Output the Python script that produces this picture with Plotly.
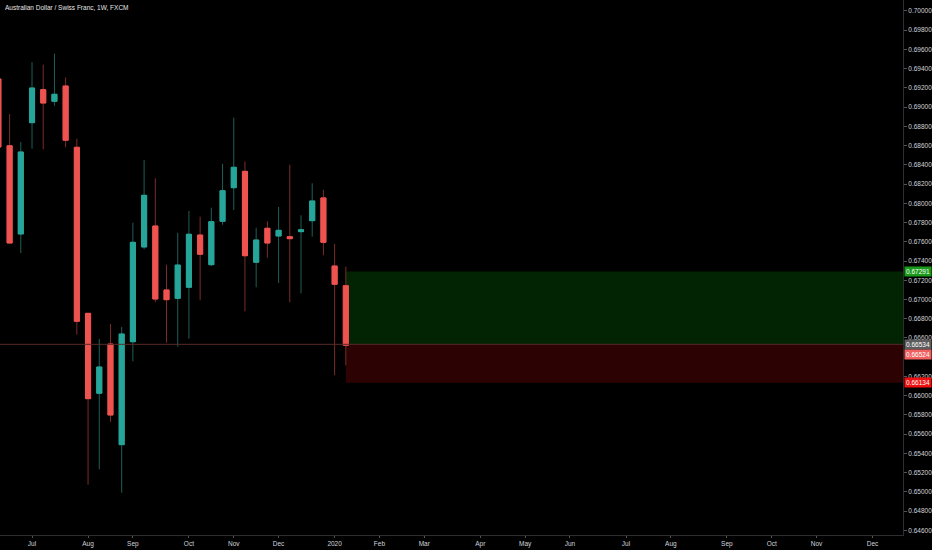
import plotly.graph_objects as go

# weekly AUD/CHF candles (Monday of each week)
dates = ["2019-06-10", "2019-06-17", "2019-06-24", "2019-07-01", "2019-07-08",
         "2019-07-15", "2019-07-22", "2019-07-29", "2019-08-05", "2019-08-12",
         "2019-08-19", "2019-08-26", "2019-09-02", "2019-09-09", "2019-09-16",
         "2019-09-23", "2019-09-30", "2019-10-07", "2019-10-14", "2019-10-21",
         "2019-10-28", "2019-11-04", "2019-11-11", "2019-11-18", "2019-11-25",
         "2019-12-02", "2019-12-09", "2019-12-16", "2019-12-23", "2019-12-30",
         "2020-01-06", "2020-01-13"]
opens = [0.69292, 0.68598, 0.67681, 0.68838, 0.69181, 0.69060, 0.69219, 0.68582,
         0.66856, 0.66025, 0.66537, 0.65491, 0.66561, 0.67546, 0.67764, 0.67099,
         0.67012, 0.67127, 0.67670, 0.67362, 0.67813, 0.68162, 0.68332, 0.67387,
         0.67740, 0.67660, 0.67653, 0.67705, 0.67819, 0.68056, 0.67348, 0.67143]
highs = [0.69350, 0.68928, 0.68637, 0.69468, 0.69440, 0.69555, 0.69309, 0.68671,
         0.66856, 0.66589, 0.66745, 0.66714, 0.67798, 0.68450, 0.68260, 0.67362,
         0.67694, 0.67920, 0.67861, 0.67954, 0.68411, 0.68890, 0.68436, 0.67746,
         0.67813, 0.67961, 0.68402, 0.67875, 0.68208, 0.68141, 0.67577, 0.67341]
lows = [0.68520, 0.67587, 0.67483, 0.68567, 0.68561, 0.69014, 0.68582, 0.66634,
        0.65075, 0.65235, 0.65727, 0.64992, 0.66358, 0.67522, 0.66971, 0.66551,
        0.66509, 0.66592, 0.66992, 0.67348, 0.67777, 0.67930, 0.66877, 0.67127,
        0.67434, 0.67171, 0.66971, 0.67064, 0.67653, 0.67459, 0.66212, 0.66316]
closes = [0.68585, 0.67587, 0.68533, 0.69198, 0.69042, 0.69133, 0.68655, 0.66773,
          0.65969, 0.66298, 0.65799, 0.66641, 0.67594, 0.68083, 0.67005, 0.66998,
          0.67358, 0.67678, 0.67470, 0.67809, 0.68131, 0.68374, 0.67455, 0.67618,
          0.67587, 0.67719, 0.67632, 0.67725, 0.68024, 0.67594, 0.67158, 0.66524]

# long position tool
pos_start = "2020-01-13"
target_price = 0.67291
entry_price = 0.66534
stop_price = 0.66134
last_price = 0.66524

# 0.66400 is hidden behind the price labels in the original
price_ticks = [0.646, 0.648, 0.650, 0.652, 0.654, 0.656, 0.658, 0.660, 0.662,
               0.666, 0.668, 0.670, 0.672, 0.674, 0.676, 0.678, 0.680,
               0.682, 0.684, 0.686, 0.688, 0.690, 0.692, 0.694, 0.696, 0.698, 0.700]
month_dates = ["2019-07-01", "2019-08-05", "2019-09-02", "2019-10-07", "2019-11-04",
               "2019-12-02", "2020-01-06", "2020-02-03", "2020-03-02", "2020-04-06",
               "2020-05-04", "2020-06-01", "2020-07-06", "2020-08-03", "2020-09-07",
               "2020-10-05", "2020-11-02", "2020-12-07"]
month_labels = ["Jul", "Aug", "Sep", "Oct", "Nov", "Dec", "2020", "Feb", "Mar",
                "Apr", "May", "Jun", "Jul", "Aug", "Sep", "Oct", "Nov", "Dec"]

UP = "#26a69a"
DOWN = "#ef5350"
UP_WICK = "#1e5f58"
DOWN_WICK = "#7a2c2c"
TEXT = "#d1d4dc"
FONT = "Liberation Sans"

fig = go.Figure()

# wicks
fig.add_trace(go.Candlestick(
    x=dates, open=opens, high=highs, low=lows, close=closes,
    increasing=dict(line=dict(color=UP_WICK, width=1), fillcolor=UP),
    decreasing=dict(line=dict(color=DOWN_WICK, width=1), fillcolor=DOWN),
    whiskerwidth=0, showlegend=False, hoverinfo="skip"))

# bodies on top
body_hi = [max(o, c) for o, c in zip(opens, closes)]
body_lo = [min(o, c) for o, c in zip(opens, closes)]
fig.add_trace(go.Candlestick(
    x=dates, open=opens, high=body_hi, low=body_lo, close=closes,
    increasing=dict(line=dict(color=UP, width=1), fillcolor=UP),
    decreasing=dict(line=dict(color=DOWN, width=1), fillcolor=DOWN),
    whiskerwidth=0, showlegend=False))

x_end = "2020-12-26"

# profit / loss zones
fig.add_shape(type="rect", xref="x", yref="y", x0=pos_start, x1=x_end,
              y0=entry_price, y1=target_price, fillcolor="#022402",
              line=dict(width=0), layer="below")
fig.add_shape(type="rect", xref="x", yref="y", x0=pos_start, x1=x_end,
              y0=stop_price, y1=entry_price, fillcolor="#2c0202",
              line=dict(width=0), layer="below")
fig.add_shape(type="line", xref="paper", yref="y", x0=0, x1=1,
              y0=entry_price, y1=entry_price,
              line=dict(color="#5a2a2a", width=1))

# right side price labels (last price label is pushed below the entry one)
for price, bg, shift in [(target_price, "#1a9a1a", 0), (entry_price, "#5d5d5d", 0),
                         (last_price, "#f06060", -9), (stop_price, "#f01010", 0)]:
    fig.add_annotation(xref="paper", yref="y", x=1, y=price, xanchor="left",
                       xshift=1, yshift=shift, text=f"{price:.5f}",
                       showarrow=False, bgcolor=bg, borderpad=1,
                       font=dict(family=FONT, size=6.5, color="#ffffff"))

fig.add_annotation(xref="paper", yref="paper", x=0, y=1, xanchor="left",
                   yanchor="top", xshift=3, yshift=-2,
                   text="Australian Dollar / Swiss Franc, 1W, FXCM",
                   showarrow=False,
                   font=dict(family=FONT, size=6.5, color="#e6e6e6"))

fig.update_xaxes(type="date", range=["2019-06-11", x_end],
                 rangeslider_visible=False, showgrid=False, zeroline=False,
                 tickmode="array", tickvals=month_dates, ticktext=month_labels,
                 ticks="outside", ticklen=2, tickcolor="#555555",
                 showline=True, linecolor="#2e2e2e", linewidth=1,
                 tickfont=dict(family=FONT, size=6.5, color=TEXT))
fig.update_yaxes(side="right", range=[0.64552, 0.70113], showgrid=False,
                 zeroline=False, tickmode="array", tickvals=price_ticks,
                 ticktext=[f"{p:.5f}" for p in price_ticks],
                 ticks="outside", ticklen=3, tickcolor="#555555",
                 showline=True, linecolor="#2e2e2e", linewidth=1,
                 tickfont=dict(family=FONT, size=6.5, color=TEXT))

fig.update_layout(width=932, height=550, autosize=False,
                  paper_bgcolor="#000000", plot_bgcolor="#000000",
                  margin=dict(l=0, r=29, t=0, b=15, pad=0),
                  showlegend=False, boxgap=0.35)

# drop the page's default body margin so the figure sits at 0,0
fig.write_html("out.html", config={"displayModeBar": False},
               post_script="document.body.style.margin='0';"
                           "document.body.style.background='#000';")
